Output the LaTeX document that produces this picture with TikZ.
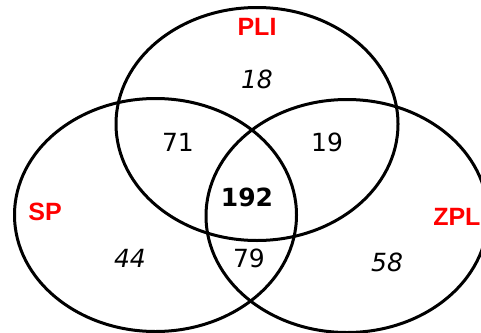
\documentclass[tikz,border=0pt]{standalone}
\usepackage{fontspec}
\setmainfont{DejaVu Sans}
\newfontfamily\namefont{Liberation Sans}
\usetikzlibrary{shapes.geometric}

\begin{document}
\begin{tikzpicture}[
  x=1pt, y=-1pt,
  set/.style={draw, ellipse, line width=3pt, minimum width=282pt, minimum height=233pt, inner sep=0pt},
  setname/.style={font=\namefont\fontsize{25}{29}\selectfont\bfseries, text=red},
  only/.style={font=\fontsize{25}{29}\selectfont\itshape},
  both/.style={font=\fontsize{25}{29}\selectfont},
  all/.style={font=\fontsize{25}{29}\selectfont\bfseries}
]
\useasboundingbox (0,0) rectangle (481,332);
\clip (0,0) rectangle (481,332);

% Sets
\node[set] (pli) at (257,124) {};
\node[set] (sp) at (155.5,215) {};
\node[set] (zpl) at (347,216) {};

% Set names
\node[setname] (tpli) at (257,27) {PLI};
\node[setname] (tsp) at (45,212) {SP};
\node[setname, anchor=east] (tzpl) at (484,217) {ZPL};

% Counts
\node[only] (n18) at (257,79) {18};
\node[only] (n44) at (130,258) {44};
\node[only] (n58) at (387,262) {58};
\node[both] (n71) at (178,142) {71};
\node[both] (n19) at (327,142) {19};
\node[both] (n79) at (249,258) {79};
\node[all] (n192) at (247,197) {192};

\end{tikzpicture}
\end{document}
